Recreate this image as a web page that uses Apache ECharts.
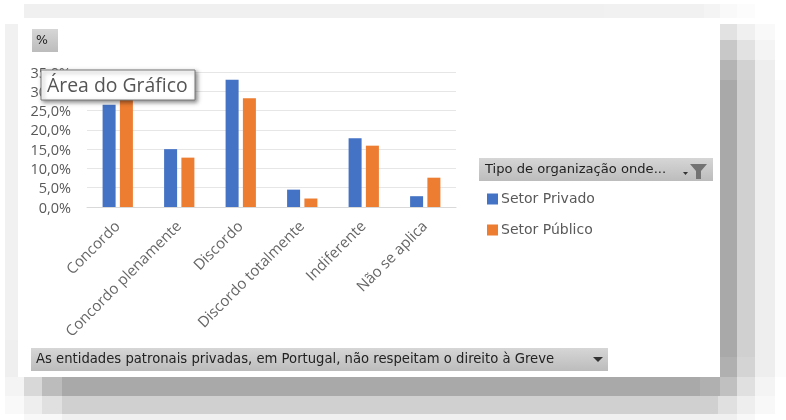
<!DOCTYPE html>
<html><head><meta charset="utf-8">
<script src="https://cdn.jsdelivr.net/npm/echarts@6/dist/echarts.min.js"></script>
<style>html,body{margin:0;padding:0;background:#fff}#c{width:786px;height:420px}</style>
</head><body><div id="c"></div>
<script>
const categories = ['Concordo','Concordo plenamente','Discordo','Discordo totalmente','Indiferente','Não se aplica'];
const setorPrivado = [26.5,15.0,33.0,4.5,17.8,2.8];
const setorPublico = [28.8,12.8,28.2,2.2,15.9,7.6];
const seriesNames = ['Setor Privado','Setor Público'];
const yTickMax = 35, yTickStep = 5;

const font = '"Open Sans",sans-serif';
const wide = '"DejaVu Sans",sans-serif';

// stepped, pixelated shadow around the white panel: [x,y,w,h,colour]
const shadow = [
 [24,4,580,14,'#f0f0f0'],[604,4,100,14,'#f1f1f1'],[704,4,16,14,'#f4f4f4'],[720,4,17,14,'#f9f9f9'],[737,4,18,14,'#fcfcfc'],
 [5,24,13,316,'#f1f1f1'],[5,340,13,37,'#efefef'],
 [720,24,17,16,'#e2e2e2'],[720,40,17,20,'#c8c8c8'],[720,60,17,20,'#b4b4b4'],[720,80,17,277,'#a8a9a8'],[720,357,17,20,'#b0b0b0'],
 [737,24,18,16,'#f0f0f0'],[737,40,18,20,'#e2e2e2'],[737,60,18,20,'#d2d2d2'],[737,80,18,277,'#d0d0d0'],[737,357,18,20,'#d4d4d4'],
 [755,24,20,16,'#f9f9f9'],[755,40,20,20,'#f4f4f4'],[755,60,20,317,'#eeeeee'],
 [775,80,11,297,'#fcfcfc'],
 [5,377,19,19,'#f4f4f4'],[24,377,18,19,'#d8d8d8'],[42,377,20,19,'#bcbcbc'],[62,377,638,19,'#a8a9a8'],[700,377,20,19,'#b0b0b0'],[720,377,17,19,'#c0c0c0'],[737,377,18,19,'#e0e0e0'],[755,377,20,19,'#f4f4f4'],
 [5,396,19,18,'#f9f9f9'],[24,396,18,18,'#eeeeee'],[42,396,20,18,'#e0e0e0'],[62,396,656,18,'#d0d0d0'],[718,396,19,18,'#e0e0e0'],[737,396,18,18,'#eeeeee'],[755,396,20,18,'#f8f8f8'],
 [24,414,38,6,'#f8f8f8'],[62,414,675,6,'#f0f0f0'],[737,414,18,6,'#f8f8f8']
];
const rect = (x,y,w,h,fill,z,extra)=>Object.assign({type:'rect',shape:{x,y,width:w,height:h},style:{fill},z,silent:true},extra||{});
const grad = {type:'linear',x:0,y:0,x2:0,y2:1,colorStops:[{offset:0,color:'#d6d6d6'},{offset:1,color:'#bcbcbc'}]};
const text = (x,y,t,size,fam,fill,z)=>({type:'text',x,y,z,silent:true,style:{text:t,font:size+'px '+fam,fill,textVerticalAlign:'middle'}});
const poly = (points,fill,z)=>({type:'polygon',shape:{points},style:{fill},z,silent:true});

const elements = [
 ...shadow.map(s=>rect(s[0],s[1],s[2],s[3],s[4],-20)),
 rect(18,18,702,359,'#ffffff',-10),
 rect(32,29,26,23,grad,5),
 text(36,41,'%',12.5,wide,'#222',6),
 rect(479,158,234,23,grad,5),
 text(485,170,'Tipo de organização onde...',13.1,wide,'#222',6),
 poly([[683,172],[688,172],[685.5,175]],'#333',6),
 poly([[690,164],[707,164],[701,171],[701,179],[696,179],[696,171]],'#737373',6),
 rect(31,348,577,23,grad,5),
 text(36,360,'As entidades patronais privadas, em Portugal, não respeitam o direito à Greve',13.2,wide,'#222',6),
 poly([[593,357],[603,357],[598,362]],'#333',6),
 rect(41,70,154,30,'#ffffff',30,{style:{fill:'#fff',stroke:'#7a7a7a',lineWidth:1,shadowBlur:4,shadowOffsetX:2,shadowOffsetY:2,shadowColor:'rgba(0,0,0,0.45)'}}),
 text(47,86,'Área do Gráfico',19.4,font,'#555',31)
];

const chart = echarts.init(document.getElementById('c'),null,{renderer:'canvas'});
chart.setOption({
 animation:false,
 backgroundColor:'transparent',
 graphic:{elements},
 grid:{left:87,right:330,top:72,bottom:213,containLabel:false},
 color:['#4472c4','#ed7d31'],
 legend:{
  data:seriesNames,orient:'vertical',left:482,top:187,itemWidth:11,itemHeight:11,itemGap:17,
  icon:'rect',selectedMode:false,
  textStyle:{fontFamily:wide,fontSize:14,color:'#595959',padding:[0,0,0,-2]}
 },
 xAxis:{type:'category',data:categories,
  axisTick:{show:false},axisLine:{lineStyle:{color:'#d9d9d9'}},
  axisLabel:{interval:0,rotate:45,margin:17,fontFamily:font,fontSize:15,color:'#666666'}},
 yAxis:{type:'value',min:0,max:yTickMax,interval:yTickStep,
  axisLine:{show:false},axisTick:{show:false},
  splitLine:{lineStyle:{color:'#e6e6e6'}},
  axisLabel:{margin:16,fontFamily:font,fontSize:14.5,color:'#595959',verticalAlign:'top',lineHeight:3,
   formatter:v=>v.toFixed(1).replace('.',',')+'%'}},
 series:[
  {name:seriesNames[0],type:'bar',data:setorPrivado,barWidth:13,barGap:'33%'},
  {name:seriesNames[1],type:'bar',data:setorPublico,barWidth:13}
 ]
});
</script></body></html>
